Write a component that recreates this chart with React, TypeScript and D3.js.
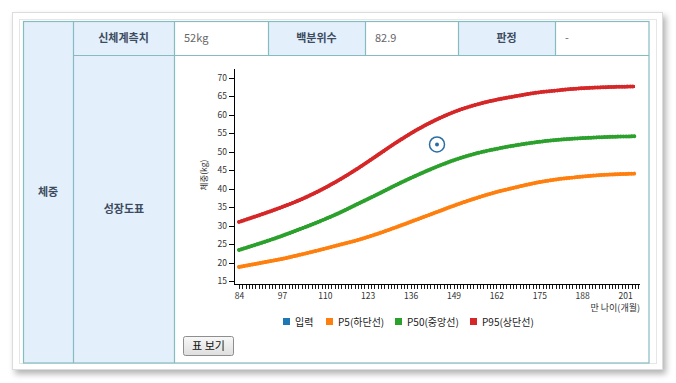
import React from "react";
import * as d3 from "d3";

const months = [84, 90, 96, 102, 108, 114, 120, 126, 132, 138, 144, 150, 156, 162, 168, 174, 180, 186, 192, 198, 204];
const p5 = [18.8, 19.8, 20.8, 22.0, 23.3, 24.7, 26.1, 27.8, 29.7, 31.7, 33.7, 35.7, 37.5, 39.1, 40.4, 41.6, 42.5, 43.1, 43.6, 43.9, 44.1];
const p50 = [23.4, 25.1, 26.9, 28.9, 31.0, 33.3, 35.9, 38.5, 41.2, 43.7, 46.0, 48.0, 49.6, 50.8, 51.8, 52.6, 53.2, 53.6, 53.9, 54.1, 54.2];
const p95 = [31.0, 32.8, 34.7, 36.8, 39.3, 42.2, 45.5, 49.1, 52.7, 56.0, 58.8, 61.1, 62.8, 64.1, 65.1, 66.0, 66.6, 67.1, 67.4, 67.6, 67.7];
const inputPoint = { month: 144, weight: 52 };
const yTicks = [15, 20, 25, 30, 35, 40, 45, 50, 55, 60, 65, 70];
const xLabelTicks = [84, 97, 110, 123, 136, 149, 162, 175, 188, 201];
const legendItems = ["입력", "P5(하단선)", "P50(중앙선)", "P95(상단선)"];
const legendColors = ["#1f77b4", "#ff7f0e", "#2ca02c", "#d62728"];
const headerCells = ["신체계측치", "52kg", "백분위수", "82.9", "판정", "-"];

const FONT = "'Noto Sans CJK KR', 'Noto Sans', sans-serif";
const BORDER = "#86bcc0";
const HEAD_BG = "#e3f0fc";
const HEAD_TXT = "#3d4b5e";

export default function App() {
  const x = d3.scaleLinear().domain([83, 205]).range([235.7, 638.3]);
  const y = d3.scaleLinear().domain([15, 70]).range([281, 78]);
  const axisBottom = 284;
  const axisTop = 69;
  const line = d3
    .line<number>()
    .x((_, i) => x(months[i]))
    .y((d) => y(d))
    .curve(d3.curveCatmullRom.alpha(0.5));
  const series = [
    { data: p5, color: legendColors[1] },
    { data: p50, color: legendColors[2] },
    { data: p95, color: legendColors[3] },
  ];
  const minorTicks = d3.range(84, 206, 1);

  const colX = [23, 73, 174, 268, 365, 458, 555, 649];
  const legendX = [283, 326, 395, 470];

  return (
    <svg
      width={676}
      height={383}
      style={{ position: "absolute", left: 0, top: 0, background: "#fff" }}
      fontFamily={FONT}
    >
      <defs>
        <filter id="sh" x="-5%" y="-5%" width="115%" height="115%">
          <feDropShadow dx="3" dy="4" stdDeviation="3" floodColor="#000" floodOpacity="0.3" />
        </filter>
        <linearGradient id="btn" x1="0" y1="0" x2="0" y2="1">
          <stop offset="0" stopColor="#f8f8f8" />
          <stop offset="1" stopColor="#dedede" />
        </linearGradient>
      </defs>
      {/* outer frame */}
      <rect x={12.5} y={12.5} width={650} height={357} fill="#fff" stroke="#dcdcdc" filter="url(#sh)" />
      <rect x={19.5} y={19.5} width={637} height={344} fill="#fff" stroke="#e6e6e6" />

      {/* table backgrounds */}
      <rect x={colX[0]} y={21} width={colX[2] - colX[0]} height={342} fill={HEAD_BG} />
      <rect x={colX[3]} y={21} width={colX[4] - colX[3]} height={34} fill={HEAD_BG} />
      <rect x={colX[5]} y={21} width={colX[6] - colX[5]} height={34} fill={HEAD_BG} />
      {/* table borders */}
      <rect x={23.5} y={21.5} width={625.5} height={341.5} fill="none" stroke={BORDER} strokeWidth={1.2} />
      <line x1={73.5} x2={73.5} y1={21} y2={363} stroke={BORDER} strokeWidth={1.2} />
      <line x1={174.5} x2={174.5} y1={21} y2={363} stroke={BORDER} strokeWidth={1.2} />
      {[3, 4, 5, 6].map((k) => (
        <line key={k} x1={colX[k] + 0.5} x2={colX[k] + 0.5} y1={21} y2={55} stroke={BORDER} strokeWidth={1.2} />
      ))}
      <line x1={73} x2={649} y1={55.5} y2={55.5} stroke={BORDER} strokeWidth={1.2} />

      {/* header texts */}
      {headerCells.map((t, i) => {
        const isHead = i % 2 === 0;
        const x0 = colX[i + 1];
        const x1 = colX[i + 2];
        return (
          <text
            key={i}
            x={isHead ? (x0 + x1) / 2 : x0 + 10}
            y={42}
            textAnchor={isHead ? "middle" : "start"}
            fontSize={11}
            fontWeight={isHead ? 700 : 400}
            fill={isHead ? HEAD_TXT : "#666"}
          >
            {t}
          </text>
        );
      })}
      <text x={48} y={196} textAnchor="middle" fontSize={11} fontWeight={700} fill={HEAD_TXT}>
        체중
      </text>
      <text x={124} y={213} textAnchor="middle" fontSize={11} fontWeight={700} fill={HEAD_TXT}>
        성장도표
      </text>

      {/* chart axes */}
      <line x1={234.5} x2={234.5} y1={axisTop} y2={axisBottom} stroke="#000" />
      <line x1={234} x2={640} y1={axisBottom + 0.5} y2={axisBottom + 0.5} stroke="#000" />
      {yTicks.map((t) => (
        <g key={t}>
          <line x1={229} x2={234.5} y1={Math.round(y(t)) + 0.5} y2={Math.round(y(t)) + 0.5} stroke="#000" />
          <text x={227} y={y(t) + 3} textAnchor="end" fontSize={8.5} fill="#333">
            {t}
          </text>
        </g>
      ))}
      {minorTicks.map((m) => (
        <line
          key={m}
          x1={Math.round(x(m)) + 0.5}
          x2={Math.round(x(m)) + 0.5}
          y1={axisBottom}
          y2={axisBottom + 5}
          stroke="#000"
          strokeWidth={0.9}
        />
      ))}
      {xLabelTicks.map((t) => (
        <text key={t} x={x(t) + 0.5} y={299} textAnchor="middle" fontSize={8.5} fill="#333">
          {t}
        </text>
      ))}
      <text x={640} y={311} textAnchor="end" fontSize={9} fill="#333">
        만 나이(개월)
      </text>
      <text
        transform="translate(207,175) rotate(-90)"
        textAnchor="middle"
        fontSize={8.5}
        fill="#333"
      >
        체중(kg)
      </text>

      {/* lines */}
      {series.map((s, i) => (
        <g key={i}>
          <path d={line(s.data) || ""} fill="none" stroke={s.color} strokeWidth={3} />
          <path
            d={line(s.data) || ""}
            fill="none"
            stroke={s.color}
            strokeWidth={4}
            strokeLinecap="round"
            strokeDasharray="0.1 2.6"
          />
        </g>
      ))}

      {/* input point */}
      <circle
        cx={x(inputPoint.month)}
        cy={y(inputPoint.weight)}
        r={7.5}
        fill="#fff"
        fillOpacity={0.6}
        stroke="#2a6ea6"
        strokeWidth={1.5}
      />
      <circle cx={x(inputPoint.month)} cy={y(inputPoint.weight)} r={2} fill="#2a6ea6" />

      {/* legend */}
      {legendItems.map((t, i) => (
        <g key={t}>
          <rect x={legendX[i]} y={318} width={7} height={7} fill={legendColors[i]} />
          <text x={legendX[i] + 12} y={325.5} fontSize={10} fill="#222">
            {t}
          </text>
        </g>
      ))}

      {/* button */}
      <rect x={183.5} y={336.5} width={50} height={19} rx={2} fill="url(#btn)" stroke="#8e8e8e" />
      <text x={208.5} y={350} textAnchor="middle" fontSize={11} fill="#111">
        표 보기
      </text>
    </svg>
  );
}
